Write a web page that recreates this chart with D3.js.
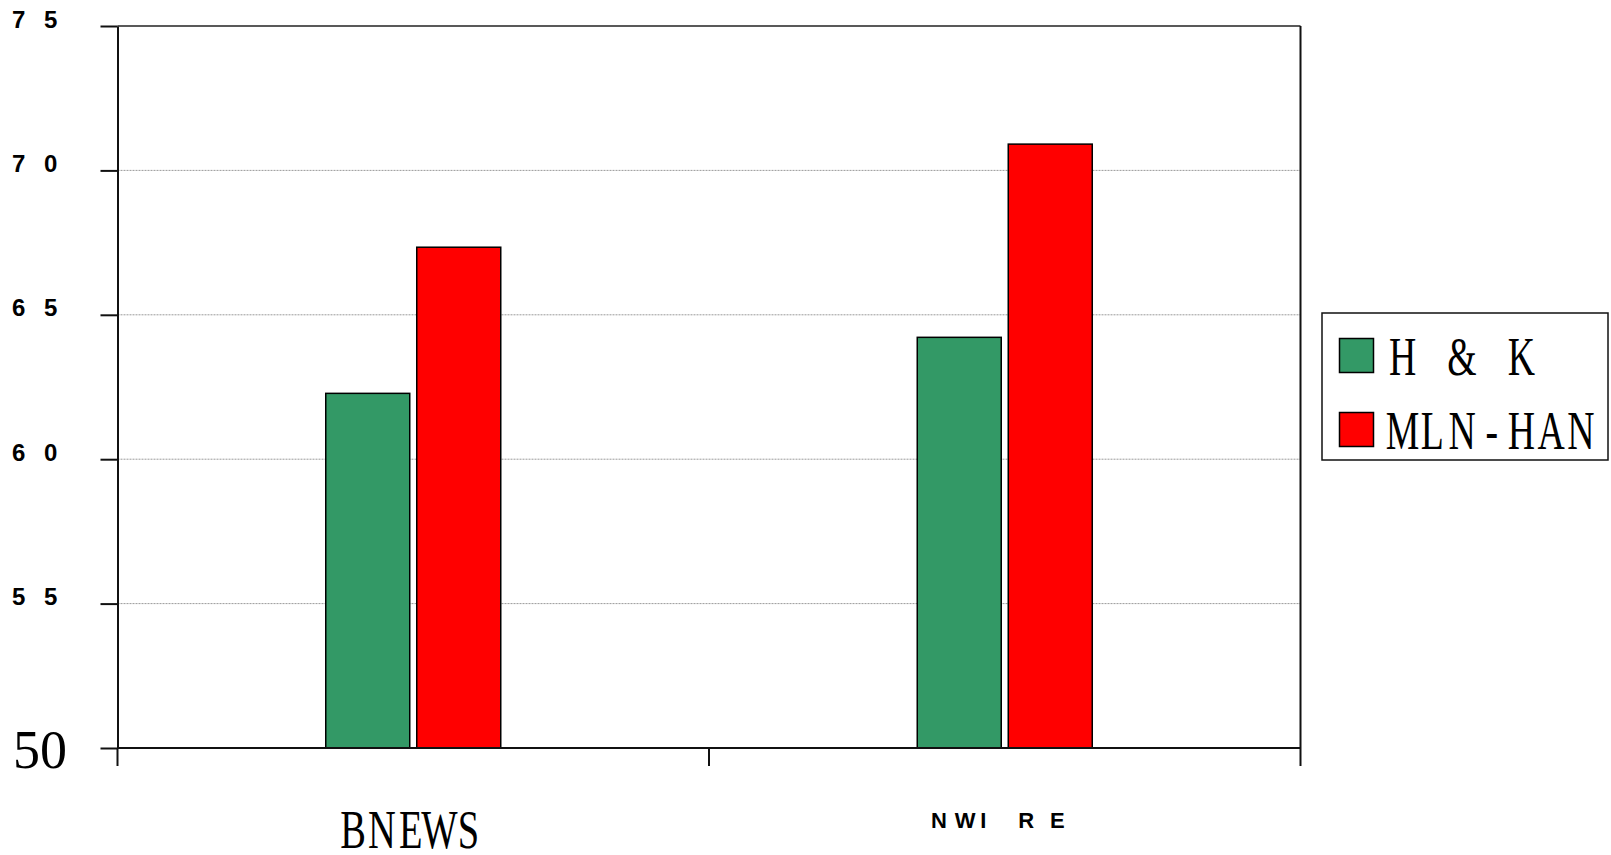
<!DOCTYPE html>
<html>
<head>
<meta charset="utf-8">
<script src="https://cdn.jsdelivr.net/npm/d3@7"></script>
<style>
  html, body { margin: 0; padding: 0; background: #fff; }
  svg { display: block; }
</style>
</head>
<body>
<svg id="chart" width="1611" height="855"></svg>
<script>
// Categories, series and values
const categories = ["BNEWS", "NWIRE"];
const categoryLabels = ["BNEWS", "N WI R E"];
const seriesNames = ["H & K", "MLN-HAN"];
const seriesColors = ["#339966", "#ff0000"];
const hkValues = [62.28, 64.22];
const mlnHanValues = [67.34, 70.91];
const yTickValues = [50, 55, 60, 65, 70, 75];
const yTickLabels = ["50", "5 5", "6 0", "6 5", "7 0", "7 5"];

const SERIF = "'Liberation Serif', 'Times New Roman', serif";
const SANS = "'Liberation Sans', Arial, sans-serif";

const svg = d3.select("#chart");

const plot = { left: 117.5, right: 1300.5, top: 26, bottom: 748 };

const y = d3.scaleLinear().domain([50, 75]).range([plot.bottom, plot.top]);
const x0 = d3.scaleBand().domain(categories).range([plot.left, plot.right]).padding(0);
const pairWidth = 175;
const x1 = d3.scaleBand().domain(seriesNames).range([0, pairWidth]).paddingInner(0.077).paddingOuter(0);

// Condensed serif text laid out in fixed-width character cells
function cellText(parent, str, left, baseline, cell, fontSize, sx) {
  const chars = Array.from(str);
  const probe = svg.append("text")
    .attr("font-family", SERIF).attr("font-size", fontSize)
    .style("white-space", "pre");
  const adv = chars.map(c => {
    probe.text(c);
    const w = probe.node().getComputedTextLength();
    return w > 0 ? w : fontSize * 0.25;
  });
  probe.remove();
  const xs = chars.map((c, i) => ((i * cell + (cell - adv[i] * sx) / 2) / sx).toFixed(2));
  return parent.append("text")
    .attr("transform", `translate(${left},${baseline}) scale(${sx},1)`)
    .attr("x", xs.join(" "))
    .attr("y", 0)
    .attr("font-family", SERIF)
    .attr("font-size", fontSize)
    .attr("fill", "#000")
    .style("white-space", "pre")
    .text(str);
}

// Gridlines
svg.append("g")
  .selectAll("line")
  .data(yTickValues.filter(v => v > 50 && v < 75))
  .join("line")
  .attr("x1", plot.left).attr("x2", plot.right)
  .attr("y1", d => y(d)).attr("y2", d => y(d))
  .attr("stroke", "#9a9a9a").attr("stroke-width", 1)
  .attr("stroke-dasharray", "2,1");

// Bars
const rows = categories.map((c, i) => ({ cat: c, vals: [hkValues[i], mlnHanValues[i]] }));
const groups = svg.append("g").selectAll("g")
  .data(rows).join("g")
  .attr("transform", d => `translate(${x0(d.cat) + x0.bandwidth() / 2 - pairWidth / 2},0)`);
groups.selectAll("rect")
  .data(d => d.vals.map((v, j) => ({ name: seriesNames[j], v, j })))
  .join("rect")
  .attr("x", d => x1(d.name))
  .attr("width", x1.bandwidth())
  .attr("y", d => y(d.v))
  .attr("height", d => y(50) - y(d.v))
  .attr("fill", d => seriesColors[d.j])
  .attr("stroke", "#000").attr("stroke-width", 1.5);

// Plot frame: top and right edges
svg.append("line")
  .attr("x1", plot.left).attr("x2", plot.right)
  .attr("y1", y(75)).attr("y2", y(75))
  .attr("stroke", "#222").attr("stroke-width", 1.5);
svg.append("line")
  .attr("x1", plot.right).attr("x2", plot.right)
  .attr("y1", y(75)).attr("y2", y(50))
  .attr("stroke", "#111").attr("stroke-width", 2);

// Y axis
const yAxis = svg.append("g")
  .attr("transform", `translate(${plot.left},0)`)
  .call(d3.axisLeft(y).tickValues(yTickValues).tickSize(17).tickSizeOuter(0).tickFormat(""));
yAxis.select(".domain").attr("stroke", "#111").attr("stroke-width", 2);
yAxis.selectAll(".tick line").attr("stroke", "#111").attr("stroke-width", 2);

svg.append("g").selectAll("text")
  .data(yTickValues)
  .join("text")
  .attr("x", (d, i) => i === 0 ? 13 : 12)
  .attr("y", (d, i) => i === 0 ? y(d) + 20 : y(d) + 1.5)
  .attr("font-family", (d, i) => i === 0 ? SERIF : SANS)
  .attr("font-weight", (d, i) => i === 0 ? "normal" : "bold")
  .attr("font-size", (d, i) => i === 0 ? 54 : 24)
  .attr("letter-spacing", (d, i) => i === 0 ? 0 : 6)
  .attr("fill", "#000")
  .style("white-space", "pre")
  .text((d, i) => yTickLabels[i]);

// X axis
svg.append("line")
  .attr("x1", plot.left).attr("x2", plot.right)
  .attr("y1", y(50)).attr("y2", y(50))
  .attr("stroke", "#111").attr("stroke-width", 2);
const xTickPositions = categories.map(c => x0(c)).concat([x0.range()[1]]);
svg.append("g").selectAll("line")
  .data(xTickPositions).join("line")
  .attr("x1", d => d).attr("x2", d => d)
  .attr("y1", y(50)).attr("y2", y(50) + 18)
  .attr("stroke", "#111").attr("stroke-width", 2);

// Category labels
cellText(svg, categoryLabels[0], x0("BNEWS") + x0.bandwidth() / 2 - 74.5, 848, 28.8, 55, 0.7);
const nwireDx = [0, 0, 1.7, 4.6, 0, 25.9, 0, 9.7];
svg.append("text")
  .attr("x", 931.1)
  .attr("y", 828.3)
  .attr("dx", nwireDx.join(" "))
  .attr("font-family", SANS)
  .attr("font-weight", "bold")
  .attr("font-size", 22)
  .attr("fill", "#000")
  .style("white-space", "pre")
  .text(categoryLabels[1]);

// Legend
const legend = svg.append("g");
legend.append("rect")
  .attr("x", 1322).attr("y", 313).attr("width", 286).attr("height", 147)
  .attr("fill", "#fff").attr("stroke", "#111").attr("stroke-width", 1.5);
const legendRowY = [338.5, 412.5];
legend.selectAll("rect.sw")
  .data(seriesNames).join("rect")
  .attr("class", "sw")
  .attr("x", 1339.5).attr("y", (d, i) => legendRowY[i])
  .attr("width", 34).attr("height", 34)
  .attr("fill", (d, i) => seriesColors[i])
  .attr("stroke", "#000").attr("stroke-width", 1.5);
seriesNames.forEach((name, i) => {
  cellText(legend, name, 1387.8, legendRowY[i] + 36, 29.7, 54, 0.7);
});
</script>
</body>
</html>
